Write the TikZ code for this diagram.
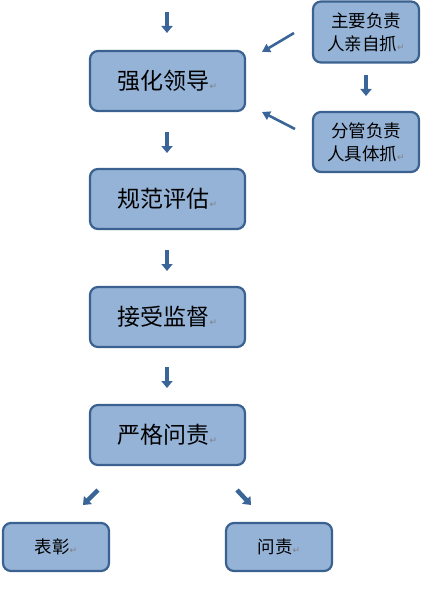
\documentclass[tikz,border=0pt]{standalone}
\usepackage{fontspec}
\newfontfamily\cjk{Noto Sans CJK SC}
\newfontfamily\djv{DejaVu Sans}
\usetikzlibrary{arrows.meta}
\definecolor{boxfill}{HTML}{95B3D7}
\definecolor{boxline}{HTML}{3B6190}
\definecolor{arr}{HTML}{3A6599}
\newcommand{\pmark}{{\djv\fontsize{9}{9}\selectfont\textcolor{gray}{↵}}}
\tikzset{
  bigbox/.style={draw=boxline, fill=boxfill, line width=2.2pt, rounded corners=8pt,
     minimum width=155pt, minimum height=60pt, font=\cjk\fontsize{23}{26}\selectfont, inner sep=0pt},
  smallbox/.style={draw=boxline, fill=boxfill, line width=2.2pt, rounded corners=8pt,
     minimum width=106pt, minimum height=48pt, font=\cjk\fontsize{17.5}{23}\selectfont, inner sep=0pt, align=center},
  blockarr/.style={draw=arr, line width=4pt, -{Triangle[width=11pt,length=7pt]}},
  thinarr/.style={draw=arr, line width=2.6pt, -{Triangle[width=9pt,length=8pt]}}
}
\begin{document}
\begin{tikzpicture}[x=1pt,y=-1pt]
\useasboundingbox (0,0) rectangle (424,591);
\node[bigbox] (lead) at (167.5,81) {强化领导\pmark};
\node[bigbox] (eval) at (167.5,199) {规范评估\pmark};
\node[bigbox] (sup) at (167.5,317) {接受监督\pmark};
\node[bigbox] (acc) at (167.5,435) {严格问责\pmark};
\node[smallbox, minimum height=61pt] (main) at (366,32) {主要负责\\人亲自抓\pmark};
\node[smallbox, minimum height=60pt] (sub) at (366,142) {分管负责\\人具体抓\pmark};
\node[smallbox] (praise) at (56,547) {表彰\pmark};
\node[smallbox] (blame) at (279,547) {问责\pmark};
% down arrows
\coordinate (t0) at (167,12);
\coordinate (h0) at (167,33);
\coordinate (t1) at (167,132);
\coordinate (h1) at (167,153);
\coordinate (t2) at (167,250);
\coordinate (h2) at (167,271);
\coordinate (t3) at (167,367);
\coordinate (h3) at (167,388);
\coordinate (t4) at (366,75);
\coordinate (h4) at (366,96);
\draw[blockarr] (t0) -- (h0);
\draw[blockarr] (t1) -- (h1);
\draw[blockarr] (t2) -- (h2);
\draw[blockarr] (t3) -- (h3);
\draw[blockarr] (t4) -- (h4);
% diagonal arrows into lead
\coordinate (d1t) at (294,33);
\coordinate (d1h) at (262,52);
\coordinate (d2t) at (295,129);
\coordinate (d2h) at (262,112);
\draw[thinarr] (d1t) -- (d1h);
\draw[thinarr] (d2t) -- (d2h);
% bottom diagonal arrows
\coordinate (b1t) at (98,490);
\coordinate (b1h) at (83,505);
\coordinate (b2t) at (237,490);
\coordinate (b2h) at (251,505);
\draw[blockarr, line width=4.5pt] (b1t) -- (b1h);
\draw[blockarr, line width=4.5pt] (b2t) -- (b2h);
\end{tikzpicture}
\end{document}
